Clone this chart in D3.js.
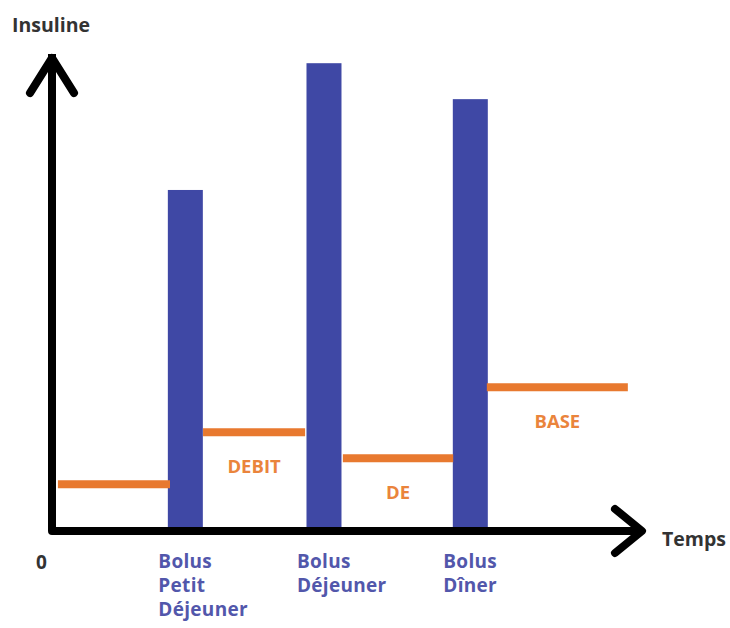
<!DOCTYPE html>
<html>
<head>
<meta charset="utf-8">
<script src="https://cdn.jsdelivr.net/npm/d3@7"></script>
<style>
  body { margin: 0; background: #fff; }
  text { font-family: "Open Sans", sans-serif; font-weight: 700; }
</style>
</head>
<body>
<svg width="730" height="628"></svg>
<script>
// bolus times (centre of bar) and heights, on a 0-100 time / insulin scale
const bolusNames = [["Bolus", "Petit", "Déjeuner"], ["Bolus", "Déjeuner"], ["Bolus", "Dîner"]];
const bolusTime = [22.6, 46.1, 70.9];
const bolusDose = [72.1, 98.9, 91.3];

// basal rate segments
const basalStart = [1.0, 25.6, 49.3, 73.7];
const basalEnd = [20.0, 42.9, 68.0, 97.6];
const basalRate = [9.9, 20.9, 15.4, 30.4];
const basalLabels = ["", "DEBIT", "DE", "BASE"];

const yTitle = "Insuline";
const xTitle = "Temps";
const originLabel = "0";

let svg = d3.select("svg");
let blue = "#3f48a5";
let orange = "#e8792f";

let xScale = d3.scaleLinear().domain([0, 100]).range([52, 642]);
let yScale = d3.scaleLinear().domain([0, 100]).range([531, 58]);

let barWidth = 35;

// bars
svg
  .selectAll("rect.bar")
  .data(bolusTime)
  .enter()
  .append("rect")
  .attr("class", "bar")
  .attr("x", (d) => xScale(d) - barWidth / 2)
  .attr("width", barWidth)
  .attr("y", (d, i) => yScale(bolusDose[i]))
  .attr("height", (d, i) => yScale(0) - yScale(bolusDose[i]))
  .attr("fill", blue);

// basal lines
svg
  .selectAll("line.basal")
  .data(basalRate)
  .enter()
  .append("line")
  .attr("class", "basal")
  .attr("x1", (d, i) => xScale(basalStart[i]))
  .attr("x2", (d, i) => xScale(basalEnd[i]))
  .attr("y1", (d) => yScale(d))
  .attr("y2", (d) => yScale(d))
  .attr("stroke", orange)
  .attr("stroke-width", 8);

// basal labels (below each segment)
svg
  .selectAll("text.basal")
  .data(basalLabels)
  .enter()
  .append("text")
  .attr("class", "basal")
  .attr("x", (d, i) => xScale((basalStart[i] + basalEnd[i]) / 2))
  .attr("y", (d, i) => yScale(basalRate[i]) + 41)
  .attr("text-anchor", "middle")
  .attr("fill", "#ea843c")
  .attr("font-size", 18.5)
  .text((d) => d);

// axes
let axis = svg.append("g")
  .attr("fill", "none")
  .attr("stroke", "#000")
  .attr("stroke-width", 8)
  .attr("stroke-linecap", "round")
  .attr("stroke-linejoin", "round");

axis.append("path")
  .attr("d", d3.line()([[xScale(0), yScale(100)], [xScale(0), yScale(0)], [xScale(100) - 3, yScale(0)]]))
  .attr("stroke-linecap", "square");

// arrow heads
axis.append("path")
  .attr("d", d3.line()([[xScale(0) - 22, yScale(100) + 35], [xScale(0), yScale(100)], [xScale(0) + 22, yScale(100) + 35]]));
axis.append("path")
  .attr("d", d3.line()([[xScale(100) - 27, yScale(0) - 22], [xScale(100), yScale(0)], [xScale(100) - 27, yScale(0) + 22]]));

// bolus labels
bolusNames.forEach((lines, i) => {
  let t = svg.append("text")
    .attr("x", xScale(bolusTime[i]) - 27)
    .attr("y", 568)
    .attr("fill", "#5257ab")
    .attr("font-size", 19)
    .attr("letter-spacing", 0.3);
  lines.forEach((l, j) => {
    t.append("tspan").attr("x", xScale(bolusTime[i]) - 27).attr("dy", j === 0 ? 0 : 24).text(l);
  });
});

svg.append("text").attr("x", 12).attr("y", 32).attr("fill", "#333").attr("font-size", 19.5).text(yTitle);
svg.append("text").attr("x", 662).attr("y", 546).attr("fill", "#333").attr("font-size", 19.5).text(xTitle);
svg.append("text").attr("x", 36).attr("y", 569).attr("fill", "#333").attr("font-size", 19).text(originLabel);
</script>
</body>
</html>
